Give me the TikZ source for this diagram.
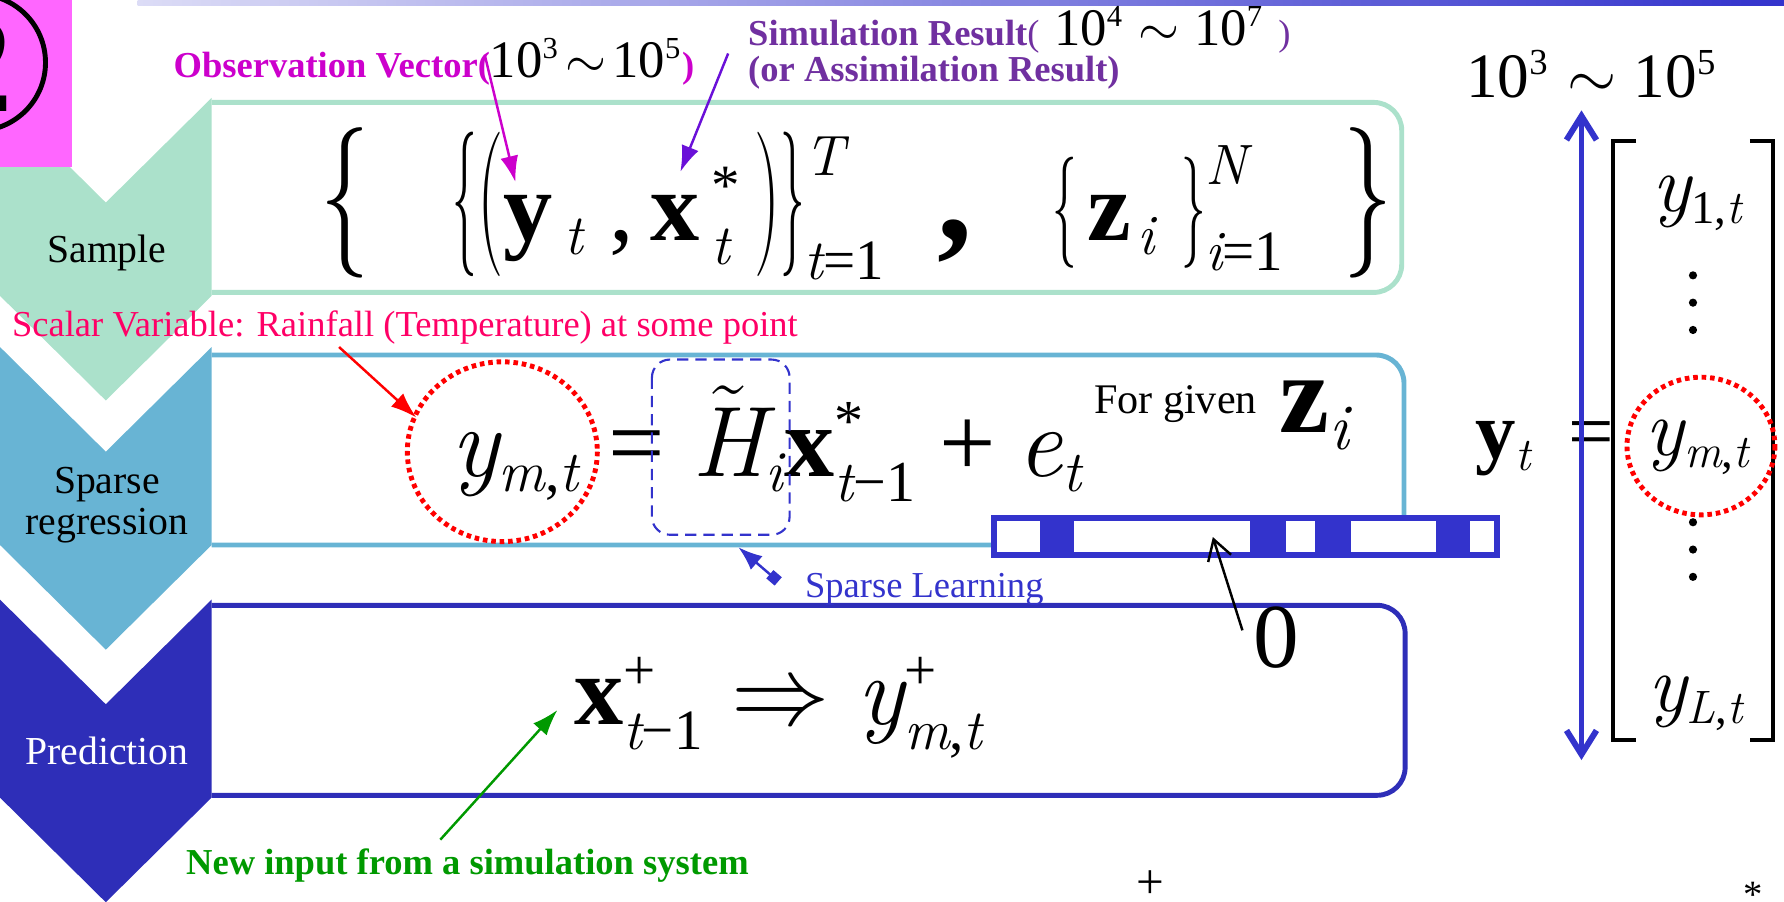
\documentclass[tikz,border=0pt]{standalone}
\usepackage{fix-cm}
\usepackage{graphicx}
\usepackage{fontspec}
\setmainfont{Liberation Serif}
\newfontfamily\libserif{Liberation Serif}[NFSSFamily=libser]
\DeclareSymbolFont{libit}{TU}{lmr}{m}{it}
\DeclareSymbolFont{librm}{TU}{libser}{m}{n}
\renewcommand{\defaultscriptratio}{.58}
\renewcommand{\defaultscriptscriptratio}{.45}
\AtBeginDocument{%
  \count255=`a
  \loop\Umathcode\count255=7 \symlibit\count255
    \ifnum\count255<`z\advance\count255 by 1\repeat
  \count255=`A
  \loop\Umathcode\count255=7 \symlibit\count255
    \ifnum\count255<`Z\advance\count255 by 1\repeat
  \count255=`0
  \loop\Umathcode\count255=7 \symlibrm\count255
    \ifnum\count255<`9\advance\count255 by 1\repeat
  \Umathcode`+=2 \symlibrm`+
  \Umathcode`==3 \symlibrm`=
  \Umathcode`-=2 \symlibrm"2212
  \Umathcode`,=6 \symlibrm`,
  \Umathcode`*=0 \symlibrm`*
}
\usetikzlibrary{arrows.meta,positioning}
\definecolor{sampgreen}{HTML}{ABE1CB}
\definecolor{regblue}{HTML}{68B4D4}
\definecolor{preddark}{HTML}{2E2EB8}
\definecolor{learnblue}{HTML}{3333CC}
\definecolor{obsmag}{HTML}{CC00CC}
\definecolor{simpurple}{HTML}{7030A0}
\definecolor{simarrow}{HTML}{6A10D8}
\definecolor{scalarred}{HTML}{FF0066}
\definecolor{newgreen}{HTML}{009900}
\definecolor{badgepink}{HTML}{FF66FF}
\definecolor{barlight}{HTML}{DCDCF6}
\newcommand{\tallbr}[3]{\mathord{\scalebox{#2}[#3]{$#1$}}}
\newcommand{\lowsup}[2]{\raisebox{-#1}{\fontsize{16.2}{16}\selectfont$#2$}}
\tikzset{
  stepbox/.style={line width=1.4pt, rounded corners=2.8mm},
  chevlabel/.style={font=\fontsize{11.3}{11.7}\selectfont, align=center,
    anchor=base, inner sep=0pt},
  notelabel/.style={font=\bfseries\fontsize{10.4}{12}\selectfont,
    anchor=base west, inner sep=0pt},
  plainlabel/.style={font=\fontsize{10.4}{12}\selectfont,
    anchor=base west, inner sep=0pt},
  eqnode/.style={anchor=base west, inner sep=0pt},
  notearrow/.style={-{Latex[length=2.6mm,width=1.8mm]}, line width=0.7pt},
  dotring/.style={red, line width=1.4pt, dash pattern=on 1.3pt off 1.1pt},
  dimarrow/.style={learnblue, line width=1.7pt,
    {Straight Barb[length=2.4mm,width=3mm]}-{Straight Barb[length=2.4mm,width=3mm]}},
}

\begin{document}
\begin{tikzpicture}[x=0.011378cm, y=-0.011378cm]
  \useasboundingbox (0,0) rectangle (1568,792);
  \shade[left color=barlight, right color=learnblue] (121,0) rectangle (1568,4.5);

  % boxes beside the steps
  \draw[stepbox, sampgreen] (186,90) -- (1232,90) -- (1232,257) -- (186,257);
  \draw[stepbox, regblue] (186,312) -- (1234,312) -- (1234,479) -- (186,479);
  \draw[stepbox, preddark] (186,532) -- (1235,532) -- (1235,699) -- (186,699);

  \foreach \ytop/\col in {86/sampgreen, 305/regblue, 527/preddark}
    \fill[\col] (0,\ytop) -- (93,\ytop+92) -- (186,\ytop) -- (186,\ytop+174)
      -- (93,\ytop+266) -- (0,\ytop+174) -- cycle;

  \node[chevlabel] (sample) at (94,231) {Sample};
  \node[chevlabel, anchor=center] (sparse) at (94,444) {Sparse\\regression};
  \node[chevlabel, text=white] (predict) at (94,672) {Prediction};

  \fill[badgepink] (0,0) rectangle (63,147);
  \begin{scope}
    \clip (0,0) rectangle (63,147);
    \draw[line width=1.4pt] (-20,55) circle (60);
    \node[font=\bfseries\fontsize{40}{40}\selectfont] (badge) at (-20,57) {2};
  \end{scope}

  % sparse coefficient vector
  \fill[learnblue] (871,453) rectangle (1318,490);
  \foreach \xa/\xb in {876/914, 944/1099, 1130/1156, 1187/1262, 1292/1313}
    \fill[white] (\xa,458) rectangle (\xb,485);

  \node[eqnode, font=\fontsize{28}{34}\selectfont] (sampeq) at (281,211)
    {$\tallbr{\{}{1}{1.53}\hspace{8.3mm}\tallbr{\{}{0.5}{1.47}\tallbr{(}{0.75}{1.47}
      \mathbf{y}_{\hspace{1.2mm}t}\hspace{2.5mm},\mathbf{x}^{\hspace{1.2mm}*}_{\hspace{1.2mm}t}\hspace{1.2mm}
      \tallbr{)}{0.75}{1.47}\tallbr{\}}{0.5}{1.47}^{\lowsup{2.2mm}{T}}_{t=1}
      \hspace{5.2mm}\mbox{\bfseries\fontsize{40}{40}\selectfont ,}\hspace{8mm}
      \tallbr{\{}{0.5}{1.13}\hspace{1mm}\mathbf{z}_{\hspace{0.6mm}i}\hspace{2.5mm}\tallbr{\}}{0.5}{1.13}^{\lowsup{0.6mm}{N}}_{i=1}
      \hspace{5.8mm}\tallbr{\}}{1}{1.53}$};
  \node[eqnode, font=\fontsize{28.5}{34}\selectfont] (regeq) at (396,419)
    {$y_{m,t}=\tilde{H}_{i}\mathbf{x}^{*}_{t-1}+e_{t}$};
  \node[eqnode, font=\fontsize{28}{34}\selectfont] (predeq) at (504,637)
    {$\mathbf{x}^{+}_{t-1}\Rightarrow y^{+}_{m,t}$};

  \node[eqnode, font=\fontsize{12}{14}\selectfont] (given) at (961,363) {For given};
  \node[eqnode, font=\fontsize{32}{38}\selectfont] (givenz) at (1124,380) {$\mathbf{z}_{i}$};

  \draw[learnblue, line width=0.6pt, dash pattern=on 3.2pt off 2pt,
    rounded corners=1.8mm] (573,316) rectangle (694,470);
  \draw[dotring] (441.5,397) ellipse [x radius=83.5, y radius=79];

  \node[eqnode, font=\fontsize{26}{30}\selectfont] (zero) at (1101,587) {0};
  \coordinate (zeroTail) at (1092,554);
  \coordinate (zeroHead) at (1066,472);
  \draw[-{Straight Barb[length=2mm,width=2.4mm]}, line width=0.7pt] (zeroTail) -- (zeroHead);

  \node[plainlabel, learnblue] (learn) at (707,525) {Sparse Learning};
  \coordinate (learnTail) at (684,511);
  \coordinate (learnHead) at (649,481);
  \draw[learnblue, line width=0.7pt,
    {Square[length=1.1mm,width=1.1mm]}-{Latex[length=2.4mm,width=1.8mm]}] (learnTail) -- (learnHead);

  % notes and their arrows
  \node[plainlabel, scalarred] (scalar) at (10,296)
    {Scalar Variable: Rainfall (Temperature) at some point};
  \coordinate (scalarFoot) at (298,305);
  \coordinate (ringEdge) at (366,367);
  \draw[notearrow, red] (scalarFoot) -- (ringEdge);

  \node[notelabel, obsmag] (obs) at (152,68)
    {Observation Vector(\textcolor{black}{\mdseries\fontsize{15}{18}\selectfont$10^{3}\!\sim\!10^{5}$})};
  \coordinate (obsFoot) at (426,48);
  \coordinate (ytHead) at (453,160);
  \draw[notearrow, obsmag] (obsFoot) -- (ytHead);

  \node[notelabel, simpurple] (sim) at (657,40)
    {Simulation Result{\mdseries(}\hspace{0.4em}\textcolor{black}{\mdseries\fontsize{15}{18}\selectfont$10^{4}\sim10^{7}$}\hspace{0.4em}{\mdseries)}};
  \node[notelabel, simpurple] (assim) at (657,72) {(or Assimilation Result)};
  \coordinate (simFoot) at (640,47);
  \coordinate (xHead) at (598,151);
  \draw[notearrow, simarrow] (simFoot) -- (xHead);

  \node[notelabel, newgreen] (newin) at (163,769) {New input from a simulation system};
  \coordinate (newFoot) at (387,738);
  \coordinate (xPlusHead) at (490,624);
  \draw[notearrow, newgreen] (newFoot) -- (xPlusHead);

  % observation vector column
  \node[eqnode, font=\fontsize{18}{22}\selectfont] (dimlabel) at (1288,86) {$10^{3}\sim10^{5}$};
  \node[eqnode, font=\fontsize{23}{28}\selectfont] (ytvec) at (1296,403) {$\mathbf{y}_{t}\,={}$};
  \coordinate (dimTop) at (1390,97);
  \coordinate (dimBot) at (1390,668);
  \draw[dimarrow] (dimTop) -- (dimBot);

  \draw[line width=1.15pt] (1438,124) -| (1418,650) -- (1438,650);
  \draw[line width=1.15pt] (1538,124) -| (1558,650) -- (1538,650);
  \node[eqnode, font=\fontsize{23}{28}\selectfont] (yfirst) at (1452,186) {$y_{1,t}$};
  \node[eqnode, font=\fontsize{23}{28}\selectfont] (ymid) at (1446,400) {$y_{m,t}$};
  \node[eqnode, font=\fontsize{23}{28}\selectfont] (ylast) at (1448,625) {$y_{L,t}$};
  \foreach \yy in {242,266,290,459,483,507}
    \fill (1488,\yy) circle (3.6);
  \draw[dotring] (1495,392) ellipse [x radius=65, y radius=60.5];

  \node[eqnode, font=\fontsize{14}{16}\selectfont] (cutplus) at (998,790) {+};
  \node[eqnode, font=\fontsize{11}{13}\selectfont] (cutstar) at (1532,798) {*};
\end{tikzpicture}
\end{document}
